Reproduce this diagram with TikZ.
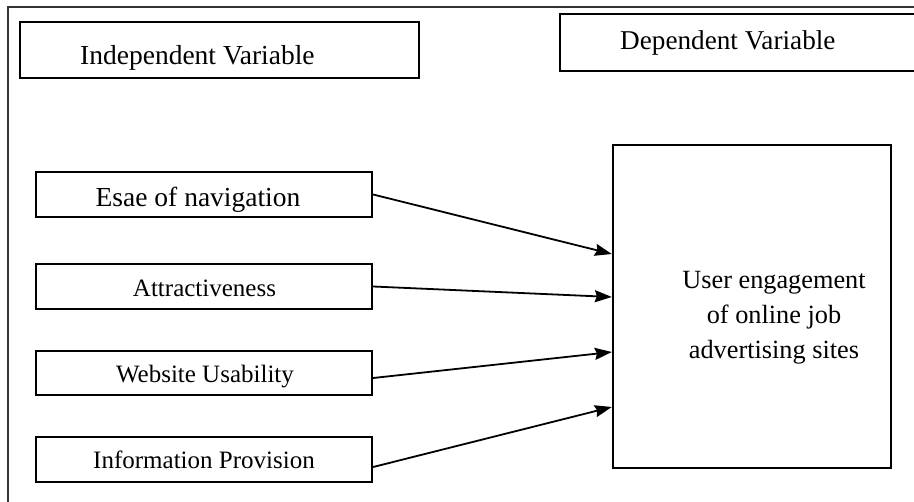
\documentclass[tikz,border=0pt]{standalone}
\usepackage{fontspec}
\setmainfont{Liberation Serif}
\usetikzlibrary{arrows.meta,calc}
\begin{document}
\begin{tikzpicture}[x=1pt,y=-1pt,
  boxstyle/.style={draw=black,line width=2.3pt,inner sep=0pt,fill=none},
  lbl/.style={inner sep=0pt,anchor=base},
  conn/.style={line width=1.8pt,-{Stealth[length=17pt,width=12pt,inset=2pt]}}]
\useasboundingbox (0,0) rectangle (914,502);
\clip (0,0) rectangle (914,502);
\fill[white] (0,0) rectangle (914,502);
% outer frame (only top and left edges visible)
\draw[line width=1.1pt,black!80] (8,7) rectangle (960,540);
% header boxes
\node[boxstyle,minimum width=399pt,minimum height=56pt] (iv) at (219.5,50) {};
\node[lbl,anchor=base west] (ivt) at (80,65) {\fontsize{27.5}{33}\selectfont Independent Variable};
\node[boxstyle,minimum width=400pt,minimum height=57pt] (dv) at (760,42.5) {};
\node[lbl,anchor=base west] (dvt) at (620,50) {\fontsize{27.2}{33}\selectfont Dependent Variable};
% independent variable boxes
\node[boxstyle,minimum width=336pt,minimum height=45pt] (esae) at (204,194.5) {};
\node[lbl] (esaet) at (198,207) {\fontsize{27.5}{33}\selectfont Esae of navigation};
\node[boxstyle,minimum width=336pt,minimum height=45pt] (attr) at (204,286.5) {};
\node[lbl] (attrt) at (204.5,296.7) {\fontsize{25}{30}\selectfont Attractiveness};
\node[boxstyle,minimum width=336pt,minimum height=44pt] (web) at (204,373) {};
\node[lbl] (webt) at (205,382.7) {\fontsize{25}{30}\selectfont Website Usability};
\node[boxstyle,minimum width=336pt,minimum height=45pt] (info) at (204,459.5) {};
\node[lbl] (infot) at (204,469) {\fontsize{25}{30}\selectfont Information Provision};
% dependent variable box
\node[boxstyle,minimum width=278pt,minimum height=323pt] (ue) at (752,306.5) {};
\node[lbl] (uet1) at (774,289) {\fontsize{26.3}{35}\selectfont User engagement};
\node[lbl] (uet2) at (774,324) {\fontsize{26.3}{35}\selectfont of online job};
\node[lbl] (uet3) at (774,359) {\fontsize{26.3}{35}\selectfont advertising sites};
% connectors
\draw[conn] (esae.east) -- ([yshift=52.5pt]ue.west);
\draw[conn] (attr.east) -- ([yshift=9.5pt]ue.west);
\draw[conn] ([yshift=-5pt]web.east) -- ([yshift=-45.5pt]ue.west);
\draw[conn] ([yshift=-7.5pt]info.east) -- ([yshift=-100.5pt]ue.west);
\end{tikzpicture}
\end{document}
